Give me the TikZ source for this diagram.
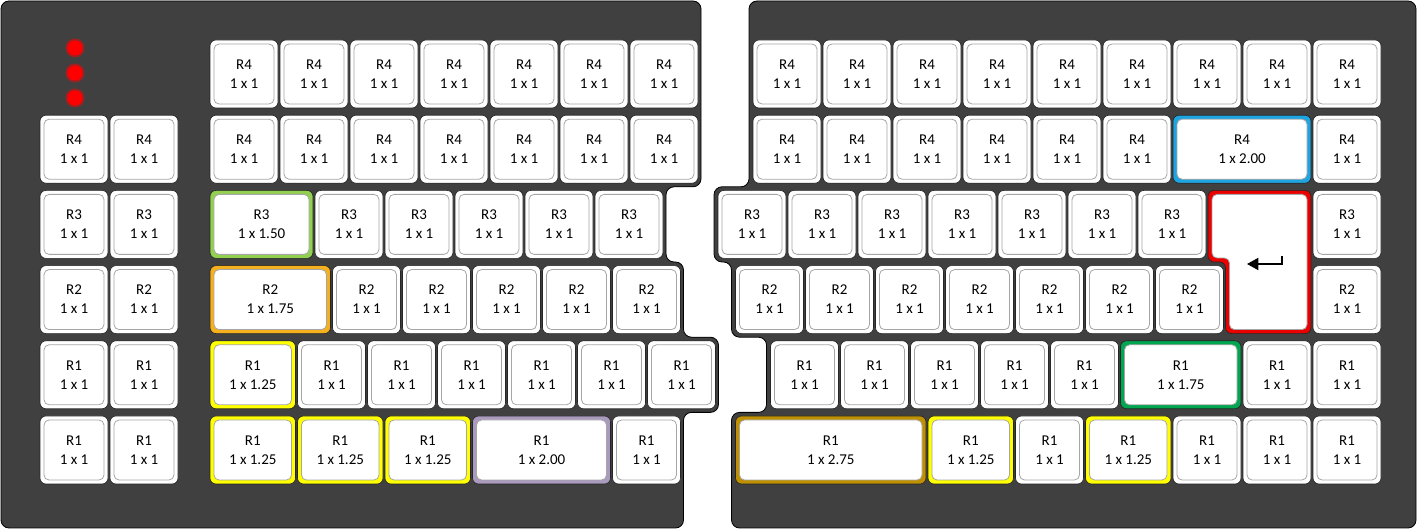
\documentclass[tikz,border=0pt]{standalone}
\usepackage{fontspec}
\setmainfont{Carlito}
\usepackage{tikz}
\usetikzlibrary{arrows.meta}
\definecolor{casegray}{RGB}{64,64,64}
\definecolor{ringgreen}{RGB}{146,208,80}
\definecolor{ringorange}{RGB}{245,176,30}
\definecolor{ringyellow}{RGB}{255,255,0}
\definecolor{ringpurple}{RGB}{170,155,190}
\definecolor{ringgold}{RGB}{191,144,0}
\definecolor{ringblue}{RGB}{30,165,225}
\definecolor{ringred}{RGB}{235,0,0}
\definecolor{ringdkgreen}{RGB}{0,166,80}

% one key: name, x, y, width (units), ring colour, row, size
\newcommand{\keycap}[7]{%
  \draw[keyring, fill=#5] ({#2},{#3}) rectangle ++({#4*70-2},68);
  \draw[keytop] ({#2+4},{#3+4}) rectangle ++({#4*70-10},60);
  \node[keylabel] (#1) at ({#2+#4*35-1},{#3+34}) {#6\\1 x #7};
}

\begin{document}
\begin{tikzpicture}[x=0.75pt, y=-0.75pt,
    casebody/.style={fill=casegray, draw=black, line width=0.6pt, rounded corners=6pt},
    keyring/.style={draw=black!85, line width=0.5pt, rounded corners=4.5pt},
    keytop/.style={draw=black!35, line width=0.6pt, fill=white, rounded corners=3.8pt},
    keylabel/.style={align=center, inner sep=0pt, font=\fontsize{11.25}{14.25}\selectfont}]
    \fill[white] (0,0) rectangle (1418,530);
    \useasboundingbox (0,0) rectangle (1418,530);

    % Left case
    \draw[casebody] (1,1) -- (701,1) -- (701,186.8) -- (666,186.8) -- (666,262)
        -- (683.5,262) -- (683.5,337.2) -- (718.5,337.2) -- (718.5,412.4)
        -- (683.5,412.4) -- (683.5,528) -- (1,528) -- cycle;

    % Right case
    \draw[casebody] (749,1) -- (1416,1) -- (1416,528) -- (731.5,528) -- (731.5,412.4)
        -- (766.5,412.4) -- (766.5,337.2) -- (731.5,337.2) -- (731.5,262)
        -- (714,262) -- (714,186.8) -- (749,186.8) -- cycle;

    % LEDs
    \foreach \i/\y in {1/48, 2/73, 3/98} {
        \coordinate (led\i) at (75,\y);
        \fill[red!50!casegray] (led\i) circle (9.5);
        \fill[red] (led\i) circle (7.5);
    }

    % Macro columns
    \foreach \j/\r/\y in {1/R4/115.2, 2/R3/190.4, 3/R2/265.6, 4/R1/340.8, 5/R1/416} {
        \keycap{m\j a}{40}{\y}{1}{white}{\r}{1}
        \keycap{m\j b}{110}{\y}{1}{white}{\r}{1}
    }

    % Left block
    \foreach \j/\y in {0/40, 1/115.2} {
        \foreach \i in {0,...,6} {\keycap{l\j-\i}{210+70*\i}{\y}{1}{white}{R4}{1}}
    }
    \keycap{l2-0}{210}{190.4}{1.5}{ringgreen}{R3}{1.50}
    \foreach \i in {1,...,5} {\keycap{l2-\i}{245+70*\i}{190.4}{1}{white}{R3}{1}}
    \keycap{l3-0}{210}{265.6}{1.75}{ringorange}{R2}{1.75}
    \foreach \i in {1,...,5} {\keycap{l3-\i}{262.5+70*\i}{265.6}{1}{white}{R2}{1}}
    \keycap{l4-0}{210}{340.8}{1.25}{ringyellow}{R1}{1.25}
    \foreach \i in {1,...,6} {\keycap{l4-\i}{227.5+70*\i}{340.8}{1}{white}{R1}{1}}
    \foreach \i in {0,1,2} {\keycap{l5-\i}{210+87.5*\i}{416}{1.25}{ringyellow}{R1}{1.25}}
    \keycap{l5-3}{472.5}{416}{2}{ringpurple}{R1}{2.00}
    \keycap{l5-4}{612.5}{416}{1}{white}{R1}{1}

    % Right block
    \foreach \i in {0,...,8} {\keycap{r0-\i}{753+70*\i}{40}{1}{white}{R4}{1}}
    \foreach \i in {0,...,5} {\keycap{r1-\i}{753+70*\i}{115.2}{1}{white}{R4}{1}}
    \keycap{r1-6}{1173}{115.2}{2}{ringblue}{R4}{2.00}
    \keycap{r1-7}{1313}{115.2}{1}{white}{R4}{1}
    \foreach \i in {0,...,6} {\keycap{r2-\i}{718+70*\i}{190.4}{1}{white}{R3}{1}}
    \keycap{r2-8}{1313}{190.4}{1}{white}{R3}{1}
    \foreach \i in {0,...,6} {\keycap{r3-\i}{735.5+70*\i}{265.6}{1}{white}{R2}{1}}
    \keycap{r3-8}{1313}{265.6}{1}{white}{R2}{1}
    \foreach \i in {0,...,4} {\keycap{r4-\i}{770.5+70*\i}{340.8}{1}{white}{R1}{1}}
    \keycap{r4-5}{1120.5}{340.8}{1.75}{ringdkgreen}{R1}{1.75}
    \keycap{r4-6}{1243}{340.8}{1}{white}{R1}{1}
    \keycap{r4-7}{1313}{340.8}{1}{white}{R1}{1}
    \keycap{r5-0}{735.5}{416}{2.75}{ringgold}{R1}{2.75}
    \keycap{r5-1}{928}{416}{1.25}{ringyellow}{R1}{1.25}
    \keycap{r5-2}{1015.5}{416}{1}{white}{R1}{1}
    \keycap{r5-3}{1085.5}{416}{1.25}{ringyellow}{R1}{1.25}
    \foreach \i in {4,5,6} {\keycap{r5-\i}{893+70*\i}{416}{1}{white}{R1}{1}}

    % Enter key
    \draw[keyring, fill=ringred] (1208,190.4) -- (1311,190.4) -- (1311,333.6)
        -- (1225.5,333.6) -- (1225.5,262) -- (1208,262) -- cycle;
    \draw[keytop] (1212,194.4) -- (1307,194.4) -- (1307,329.6)
        -- (1229.5,329.6) -- (1229.5,258) -- (1212,258) -- cycle;
    \coordinate (enter) at (1266,262);
    \draw[line width=1.4pt, -{Triangle[length=8.5pt,width=9pt]}]
        ([shift={(16,-6)}]enter) -- ++(0,8) -- ([shift={(-19,2)}]enter);
\end{tikzpicture}
\end{document}
